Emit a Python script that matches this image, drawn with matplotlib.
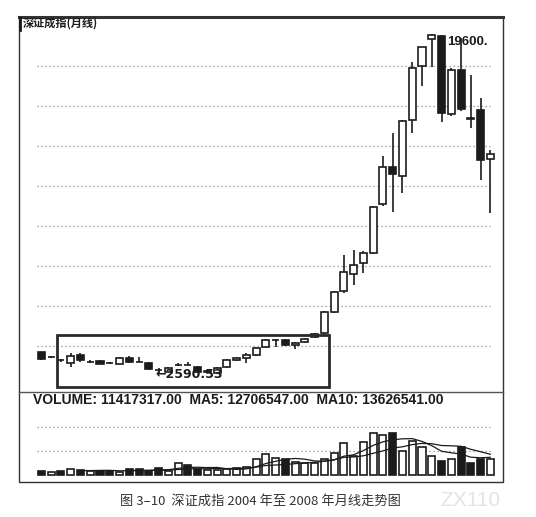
import numpy as np
import pandas as pd
import matplotlib
matplotlib.use('Agg')
import matplotlib.pyplot as plt
from matplotlib.patches import Rectangle
from matplotlib.lines import Line2D

plt.rcParams['font.family'] = ['Liberation Sans', 'Noto Sans CJK SC', 'DejaVu Sans']

# Monthly candles, Jun 2004 .. Apr 2008
months = pd.date_range('2004-06-01', periods=47, freq='MS')
opens = [3680, 3440, 3300, 3150, 3550, 3200, 3250, 3160, 3100, 3400,
         3200, 3150, 2810, 2700, 3040, 3050, 2950, 2700, 2650, 2950,
         3300, 3400, 3550, 3950, 4300, 4300, 4050, 4200, 4450, 4650,
         5700, 6750, 7600, 8150, 8650, 11100, 12950, 12500, 15300, 18000,
         19350, 19500, 15600, 17800, 15400, 15800, 13350]
highs = [3700, 3500, 3350, 3650, 3650, 3280, 3280, 3220, 3450, 3500,
         3450, 3200, 2880, 2950, 3150, 3200, 3000, 2800, 2950, 3350,
         3450, 3650, 3950, 4350, 4330, 4350, 4200, 4400, 4650, 5750,
         6750, 8550, 8800, 8750, 11000, 13500, 14650, 15300, 18200, 18950,
         19600.03, 19550, 17900, 19400, 17550, 16400, 13800]
lows = [3320, 3380, 3200, 2970, 3200, 3130, 3080, 3080, 3080, 3150,
        3180, 2800, 2590.53, 2680, 3020, 3030, 2650, 2650, 2600, 2900,
        3250, 3150, 3500, 3900, 3950, 4000, 3850, 4150, 4400, 4600,
        5650, 6650, 7050, 7650, 8600, 11000, 10700, 11650, 14650, 17000,
        17950, 15200, 15500, 15750, 14900, 12300, 10650]
closes = [3350, 3450, 3280, 3500, 3300, 3210, 3100, 3150, 3400, 3200,
          3190, 2850, 2800, 2900, 3050, 3040, 2700, 2750, 2900, 3300,
          3400, 3550, 3900, 4300, 4320, 4050, 4150, 4350, 4600, 5700,
          6700, 7700, 8050, 8650, 10950, 12950, 12600, 15250, 17900, 18950,
          19550, 15650, 17800, 15850, 15350, 13300, 13600]
# volume, millions
volumes = [2.7, 2.0, 2.5, 3.7, 3.2, 2.7, 2.7, 2.7, 2.0, 3.7,
           3.7, 2.7, 4.5, 2.7, 8.5, 6.8, 3.7, 3.2, 3.2, 3.7,
           4.5, 5.6, 10.9, 14.8, 11.9, 11.2, 9.0, 8.3, 8.3, 11.2,
           15.5, 22.7, 13.3, 23.4, 29.9, 28.4, 29.9, 16.9, 24.1, 19.8,
           13.3, 9.7, 11.2, 19.8, 8.3, 11.2, 11.4]

price_grid = [4000, 6000, 8000, 10000, 12000, 14000, 16000, 18000]
volume_grid = [17, 34]
# highlighted consolidation zone: candle index range and price range
box_x = (1.6, 29.5)
box_y = (1965, 4550)

title = '深证成指(月线)'
volume_label = 'VOLUME: 11417317.00  MA5: 12706547.00  MA10: 13626541.00'
caption = '图 3–10  深证成指 2004 年至 2008 年月线走势图'

ink = '#1b1b1b'
W, H = 536, 517

o = np.array(opens); h = np.array(highs); l = np.array(lows); c = np.array(closes)
v = np.array(volumes)
x = np.arange(len(o))
up = c >= o
body_w = 0.72

fig = plt.figure(figsize=(W / 100, H / 100), dpi=100)
fig.patch.set_facecolor('white')

# price panel
ax_p = fig.add_axes([20 / W, 1 - 392 / H, 482 / W, 375 / H])
ax_p.set_xlim(-2.2, 47.2)
ax_p.set_ylim(1700, 20450)
ax_p.axis('off')
ax_p.hlines(price_grid, -0.5, 46.0, colors='#8a8a8a', lw=0.9,
            linestyles=(0, (1, 2.2)), zorder=1)
ax_p.vlines(x, l, h, color=ink, lw=1.2, zorder=2)
ax_p.bar(x, np.abs(c - o), bottom=np.minimum(o, c), width=body_w,
         color=np.where(up, 'white', ink), edgecolor=ink, lw=1.2, zorder=3)

ax_p.add_patch(Rectangle((box_x[0], box_y[0]), box_x[1] - box_x[0], box_y[1] - box_y[0],
                         fill=False, ec='#2a2a2a', lw=2.0, zorder=4, clip_on=False))

peak_i = int(np.argmax(h))
low_i = int(np.argmin(l))
ax_p.text(peak_i + 1.6, h[peak_i] - 80, '%d.' % int(h[peak_i]), fontsize=9.5,
          fontweight='bold', color=ink, ha='left', va='top', zorder=5)
ax_p.text(low_i - 0.35, l[low_i], '←%.2f' % l[low_i], fontsize=9,
          fontweight='bold', color=ink, ha='left', va='center', zorder=5,
          family=['DejaVu Sans'])

# volume panel
ax_v = fig.add_axes([20 / W, 1 - 482 / H, 482 / W, 90 / H])
ax_v.set_xlim(-2.2, 47.2)
ax_v.set_ylim(-5.4, 59.4)
ax_v.axis('off')
ax_v.hlines(volume_grid, -0.5, 46.0, colors='#8a8a8a', lw=0.9,
            linestyles=(0, (1, 2.2)), zorder=1)
ax_v.bar(x, v, width=body_w, color=np.where(up, 'white', ink),
         edgecolor=ink, lw=1.2, zorder=2)
vol = pd.Series(v)
ax_v.plot(x, vol.rolling(5).mean(), color=ink, lw=0.9, zorder=3)
ax_v.plot(x, vol.rolling(10).mean(), color=ink, lw=0.9, zorder=3)

fig.text(33 / W, 1 - 400 / H, volume_label, fontsize=10, fontweight='bold',
         color=ink, ha='left', va='center')

# outer frame, thick top rule, separator
fig.add_artist(Rectangle((19 / W, 1 - 482 / H), 484 / W, 465 / H, transform=fig.transFigure,
                         fill=False, ec='#333333', lw=1.0))
fig.add_artist(Line2D([19 / W, 503 / W], [1 - 17 / H, 1 - 17 / H], transform=fig.transFigure,
                      color='#333333', lw=2.2))
fig.add_artist(Line2D([19 / W, 503 / W], [1 - 392 / H, 1 - 392 / H], transform=fig.transFigure,
                      color='#555555', lw=1.0))
fig.add_artist(Line2D([20 / W, 20 / W], [1 - 30 / H, 1 - 18 / H], transform=fig.transFigure,
                      color=ink, lw=2.0))

fig.text(23 / W, 1 - 23 / H, title, fontsize=8, fontweight='bold', color=ink,
         ha='left', va='center', family=['Noto Sans CJK SC', 'DejaVu Sans'])
fig.text(120 / W, 1 - 501 / H, caption, fontsize=9.5, color='#333333',
         ha='left', va='center', family=['Noto Sans CJK SC', 'DejaVu Sans'])
fig.text(440 / W, 1 - 500 / H, 'ZX110', fontsize=15, color='#e4e4e4',
         ha='left', va='center')

fig.savefig('out.png', dpi=100, facecolor='white')
